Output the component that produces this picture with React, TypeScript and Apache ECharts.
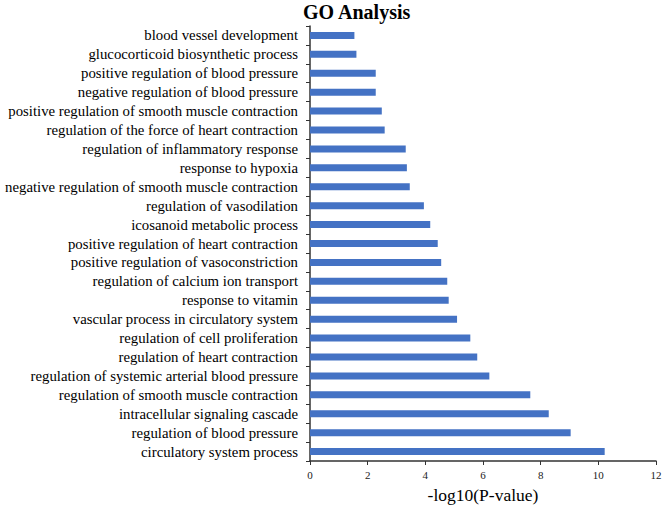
import React, { useEffect, useRef } from "react";
import * as echarts from "echarts";

const categories: string[] = [
  "circulatory system process",
  "regulation of blood pressure",
  "intracellular signaling cascade",
  "regulation of smooth muscle contraction",
  "regulation of systemic arterial blood pressure",
  "regulation of heart contraction",
  "regulation of cell proliferation",
  "vascular process in circulatory system",
  "response to vitamin",
  "regulation of calcium ion transport",
  "positive regulation of vasoconstriction",
  "positive regulation of heart contraction",
  "icosanoid metabolic process",
  "regulation of vasodilation",
  "negative regulation of smooth muscle contraction",
  "response to hypoxia",
  "regulation of inflammatory response",
  "regulation of the force of heart contraction",
  "positive regulation of smooth muscle contraction",
  "negative regulation of blood pressure",
  "positive regulation of blood pressure",
  "glucocorticoid biosynthetic process",
  "blood vessel development",
];

const values: number[] = [
  10.22, 9.04, 8.28, 7.64, 6.22, 5.8, 5.56, 5.1, 4.81, 4.76, 4.55, 4.43, 4.17,
  3.95, 3.46, 3.36, 3.32, 2.59, 2.49, 2.28, 2.28, 1.61, 1.54,
];

const FONT = "'Liberation Serif', 'Times New Roman', serif";

export default function App() {
  const ref = useRef<HTMLDivElement>(null);
  useEffect(() => {
    if (!ref.current) return;
    const chart = echarts.init(ref.current, undefined, { renderer: "svg" });
    chart.setOption({
      animation: false,
      backgroundColor: "#ffffff",
      title: {
        text: "GO Analysis",
        left: 298,
        top: 0,
        padding: [2, 5],
        textStyle: {
          fontFamily: FONT,
          fontSize: 20,
          fontWeight: "bold",
          color: "#000",
        },
      },
      grid: {
        left: 310,
        right: 10,
        top: 26,
        bottom: 47,
        containLabel: false,
        outerBoundsMode: "none",
      },
      xAxis: {
        type: "value",
        min: 0,
        max: 12,
        interval: 2,
        splitLine: { show: false },
        axisLine: {
          show: true,
          onZero: false,
          lineStyle: { color: "#333", width: 1.5 },
        },
        axisTick: { show: true, length: 4, lineStyle: { color: "#333", width: 1 } },
        axisLabel: { fontFamily: FONT, fontSize: 11, color: "#222", margin: 8 },
        name: "-log10(P-value)",
        nameLocation: "middle",
        nameGap: 25,
        nameMoveOverlap: false,
        nameTextStyle: { fontFamily: FONT, fontSize: 17.5, color: "#000" },
      },
      yAxis: {
        type: "category",
        data: categories,
        axisLine: {
          show: true,
          onZero: false,
          lineStyle: { color: "#333", width: 1.5 },
        },
        axisTick: { show: true, length: 4, lineStyle: { color: "#333", width: 1 } },
        axisLabel: {
          fontFamily: FONT,
          fontSize: 14.8,
          color: "#000",
          margin: 12,
          interval: 0,
        },
      },
      series: [
        {
          type: "bar",
          data: values,
          barWidth: 7,
          itemStyle: { color: "#4472C4" },
        },
      ],
    });
    return () => chart.dispose();
  }, []);
  return (
    <div
      ref={ref}
      style={{ position: "absolute", left: 0, top: 0, width: 666, height: 508 }}
    />
  );
}
